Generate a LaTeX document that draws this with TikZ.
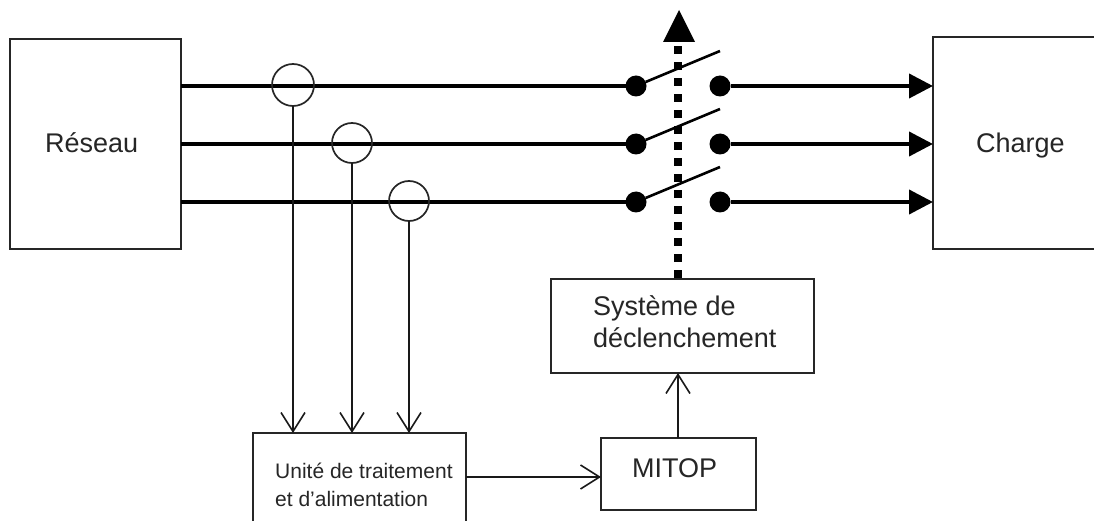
\documentclass[tikz,border=0pt]{standalone}
\usepackage{fontspec}
\setmainfont{Liberation Sans}
\usetikzlibrary{arrows.meta,calc}
\begin{document}
\begin{tikzpicture}[x=1pt,y=-1pt,
  box/.style={draw=black!85,line width=2pt,rectangle,inner sep=0pt,outer sep=0pt},
  phase/.style={line width=4pt,black},
  thin link/.style={line width=2pt,black!90},
  openarrow/.style={-{Straight Barb[length=19pt,width=24pt,line width=1.6pt]}},
  solid tip/.style={-{Triangle[length=24pt,width=24pt,fill=black]}},
  contact/.style={circle,fill=black,inner sep=0pt,outer sep=0pt,minimum size=21pt},
  ct/.style={circle,draw=black!85,line width=1.7pt,inner sep=0pt,outer sep=0pt,fill=none},
  blade/.style={line width=2.6pt,black},
  lbl/.style={font=\fontsize{27}{32}\selectfont,text=black!85,align=left,inner sep=0pt,anchor=base west}]
\useasboundingbox (0,0) rectangle (1094,521);
\fill[white] (0,0) rectangle (1094,521);
% boxes
\node[box,minimum width=171pt,minimum height=210pt,anchor=north west] (res) at (10,39) {};
\node[box,minimum width=175pt,minimum height=212pt,anchor=north west] (chg) at (933,37) {};
\node[box,minimum width=263pt,minimum height=94pt,anchor=north west] (sys) at (551,279) {};
\node[box,minimum width=213pt,minimum height=100pt,anchor=north west] (uni) at (253,433) {};
\node[box,minimum width=155pt,minimum height=72pt,anchor=north west] (mit) at (601,438) {};
\node[lbl] (tr) at (45,153) {Réseau};
\node[lbl] (tc) at (976,153) {Charge};
\node[lbl,anchor=west] (ts) at (593,322) {Système de\\déclenchement};
\node[lbl,anchor=west,font=\fontsize{21}{28}\selectfont] (tu) at (275,485) {Unité de traitement\\et d'alimentation};
\node[lbl] (tm) at (632,477) {MITOP};
% contacts
\foreach \i/\y in {1/86,2/144,3/202}{
  \node[contact] (a\i) at (636,\y) {};
  \node[contact] (b\i) at (720,\y) {};
  \coordinate (r\i) at (res.east |- a\i);
  \coordinate (c\i) at (chg.west |- a\i);
  \draw[phase] (r\i) -- (a\i);
  \draw[phase,solid tip] (b\i) -- (c\i);
  \coordinate (e\i) at ($(b\i)+(0,-35)$);
  \draw[blade] (a\i) -- (e\i);
}
% current transformers
\node[ct,minimum size=42pt] (t1) at (293,85) {};
\node[ct,minimum size=40pt] (t2) at (352,143) {};
\node[ct,minimum size=40pt] (t3) at (409,201) {};
\foreach \i in {1,2,3}{
  \draw[thin link,openarrow] (t\i.south) -- (t\i.south |- uni.north);
}
\draw[thin link,openarrow] (uni.east |- 0,477) -- (mit.west |- 0,477);
\coordinate (mt) at (678,438);
\coordinate (sb) at (678,373);
\draw[thin link,openarrow] (mt) -- (sb);
% dotted actuator
\coordinate (st) at (678,278);
\coordinate (at) at (678,46);
\draw[line width=8pt,black,dash pattern=on 8pt off 8pt] (st) -- (at);
\coordinate (tip) at (679,10);
\fill[black] (tip) -- (695,42) -- (663,42) -- cycle;
\end{tikzpicture}
\end{document}
